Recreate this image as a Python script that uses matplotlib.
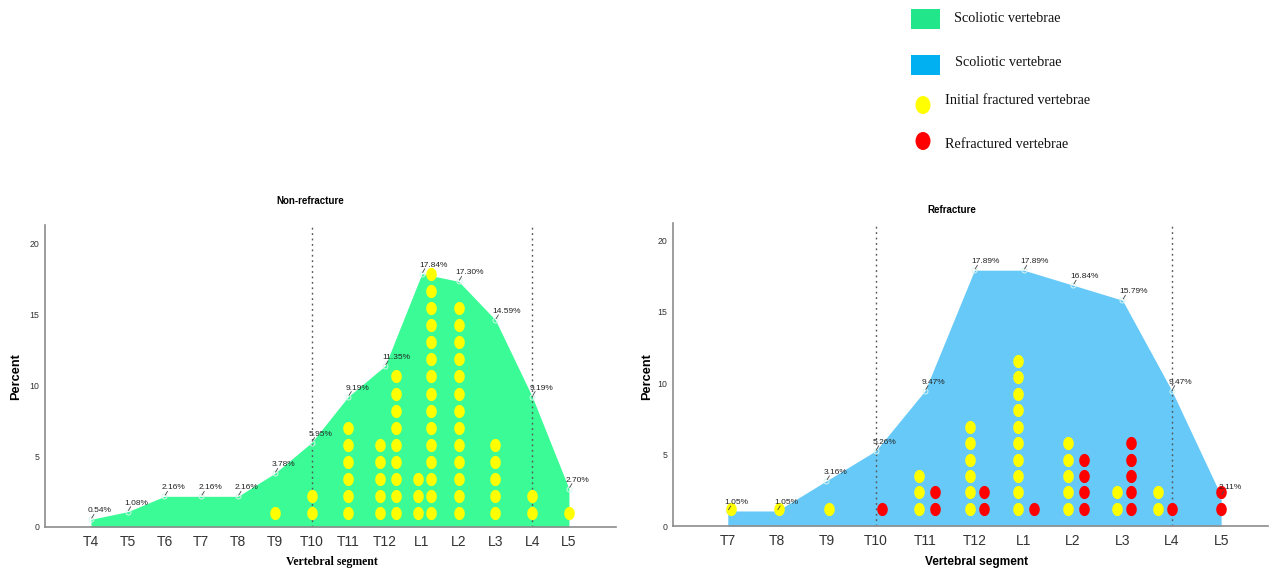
import matplotlib
matplotlib.use("Agg")
import matplotlib.pyplot as plt
from matplotlib.path import Path
from matplotlib.patches import Rectangle, Ellipse
import numpy as np

# percent of patients per segment
left_segments = ["T4", "T5", "T6", "T7", "T8", "T9", "T10", "T11", "T12", "L1", "L2", "L3", "L4", "L5"]
left_percent = [0.54, 1.08, 2.16, 2.16, 2.16, 3.78, 5.95, 9.19, 11.35, 17.84, 17.30, 14.59, 9.19, 2.70]

right_segments = ["T7", "T8", "T9", "T10", "T11", "T12", "L1", "L2", "L3", "L4", "L5"]
right_percent = [1.05, 1.05, 3.16, 5.26, 9.47, 17.89, 17.89, 16.84, 15.79, 9.47, 2.11]

# columns of dots (segment, number of vertebrae)
left_initial = [("T9", 1), ("T10", 2), ("T11", 6), ("T12", 5), ("T12", 9), ("L1", 3),
                ("L1", 15), ("L2", 13), ("L3", 5), ("L4", 2), ("L5", 1)]
right_initial = [("T7", 1), ("T8", 1), ("T9", 1), ("T11", 3), ("T12", 6), ("L1", 10),
                 ("L2", 5), ("L3", 2), ("L4", 2)]
right_refract = [("T10", 1), ("T11", 2), ("T12", 2), ("L1", 1), ("L2", 4), ("L3", 5),
                 ("L4", 1), ("L5", 2)]

# horizontal nudge of each dot column (layout only)
left_initial_shift = [0, 0, 0, -0.13, 0.3, -0.11, 0.26, 0, 0, 0, 0]
right_initial_shift = [0.07, 0.03, 0.05, -0.13, -0.1, -0.12, -0.1, -0.11, -0.27]
right_refract_shift = [0.12, 0.2, 0.2, 0.21, 0.23, 0.17, 0, 0]

GREEN = "#3afb96"
BLUE = "#66c9f8"
YELLOW = "#ffff00"
RED = "#ff0000"
SANS = ["Liberation Sans", "DejaVu Sans"]
SERIF = ["Liberation Serif", "DejaVu Serif"]

# slightly tall ellipse marker
t = np.linspace(0, 2 * np.pi, 60)
oval = Path(np.column_stack([0.8 * np.cos(t), np.sin(t)]), closed=True)


def dots(ax, segments, cols, shifts, color, base, step):
	for (seg, n), dx in zip(cols, shifts):
		x = segments.index(seg) + dx
		ys = [base + step * k for k in range(n)]
		ax.plot([x] * n, ys, linestyle="none", marker=oval, markersize=9.5,
			markerfacecolor=color, markeredgecolor="none", zorder=4)


def make_panel(ax, segments, values, fill, title, xlim, ylim):
	x = np.arange(len(segments))
	ax.fill_between(x, values, 0, color=fill, linewidth=0, zorder=1)
	ax.plot(x, values, linestyle="none", marker="o", markersize=3.6,
		markerfacecolor="none", markeredgecolor="#d8f4ee", markeredgewidth=0.7, zorder=3)
	for i, v in enumerate(values):
		ax.annotate("", xy=(i, v), xytext=(3, 5), textcoords="offset pixels",
			arrowprops=dict(arrowstyle="-", color="#444444", lw=0.6, shrinkA=0, shrinkB=1), zorder=5)
		ax.annotate("%.2f%%" % v, xy=(i, v), xytext=(-3, 5), textcoords="offset pixels",
			ha="left", va="bottom", fontsize=6, family=SANS, color="#222222", zorder=5)
	for seg in ("T10", "L4"):
		ax.axvline(segments.index(seg), color="#555555", lw=1, linestyle=(0, (1.3, 2.6)), zorder=2)
	ax.set_xlim(*xlim)
	ax.set_ylim(*ylim)
	ax.set_xticks(x)
	ax.set_xticklabels(segments, fontsize=10, family=SANS, color="#333333")
	ax.set_yticks([0, 5, 10, 15, 20])
	ax.set_yticklabels(["0", "5", "10", "15", "20"], fontsize=6.3, family=SANS, color="#333333")
	ax.tick_params(axis="both", length=0)
	ax.tick_params(axis="x", pad=6)
	ax.tick_params(axis="y", pad=4)
	for s in ("top", "right"):
		ax.spines[s].set_visible(False)
	for s in ("left", "bottom"):
		ax.spines[s].set_color("#8c8c8c")
		ax.spines[s].set_linewidth(1.2)


fig = plt.figure(figsize=(12.72, 5.75), dpi=100)

ax1 = fig.add_axes([45 / 1272, 48 / 575, 571 / 1272, 302 / 575])
make_panel(ax1, left_segments, left_percent, GREEN, "Non-refracture", (-1.25, 14.28), (0, 21.27))
dots(ax1, left_segments, left_initial, left_initial_shift, YELLOW, 1.0, 1.2)

ax2 = fig.add_axes([673 / 1272, 49 / 575, 595 / 1272, 303 / 575])
make_panel(ax2, right_segments, right_percent, BLUE, "Refracture", (-1.11, 10.95), (0, 21.19))
dots(ax2, right_segments, right_initial, right_initial_shift, YELLOW, 1.2, 1.15)
dots(ax2, right_segments, right_refract, right_refract_shift, RED, 1.2, 1.15)

# titles and axis labels, placed in pixel space
over = fig.add_axes([0, 0, 1, 1], zorder=10)
over.set_xlim(0, 1272)
over.set_ylim(575, 0)
over.axis("off")

over.text(310, 201, "Non-refracture", ha="center", va="center", fontsize=7, fontweight="bold", family=SANS)
over.text(952, 210, "Refracture", ha="center", va="center", fontsize=7, fontweight="bold", family=SANS)
over.text(16, 377, "Percent", ha="center", va="center", rotation=90, fontsize=9.2, fontweight="bold", family=SANS)
over.text(647, 377, "Percent", ha="center", va="center", rotation=90, fontsize=9.2, fontweight="bold", family=SANS)
over.text(332, 562, "Vertebral segment", ha="center", va="center", fontsize=8.5, fontweight="bold", family=SERIF)
over.text(977, 562, "Vertebral segment", ha="center", va="center", fontsize=8.6, fontweight="bold", family=SANS)

# legend
over.add_patch(Rectangle((911, 9), 29, 20, color="#22e68a", lw=0))
over.add_patch(Rectangle((911, 55), 29, 20, color="#00b0f0", lw=0))
over.add_patch(Ellipse((923, 105), 15, 18, color=YELLOW, lw=0))
over.add_patch(Ellipse((923, 141), 15, 18, color=RED, lw=0))
over.text(954, 18, "Scoliotic vertebrae", va="center", fontsize=10.3, family=SERIF, color="#111111")
over.text(955, 63, "Scoliotic vertebrae", va="center", fontsize=10.3, family=SERIF, color="#111111")
over.text(945, 100, "Initial fractured vertebrae", va="center", fontsize=10.3, family=SERIF, color="#111111")
over.text(945, 144, "Refractured vertebrae", va="center", fontsize=10.3, family=SERIF, color="#111111")

fig.savefig("out.png", dpi=100)
